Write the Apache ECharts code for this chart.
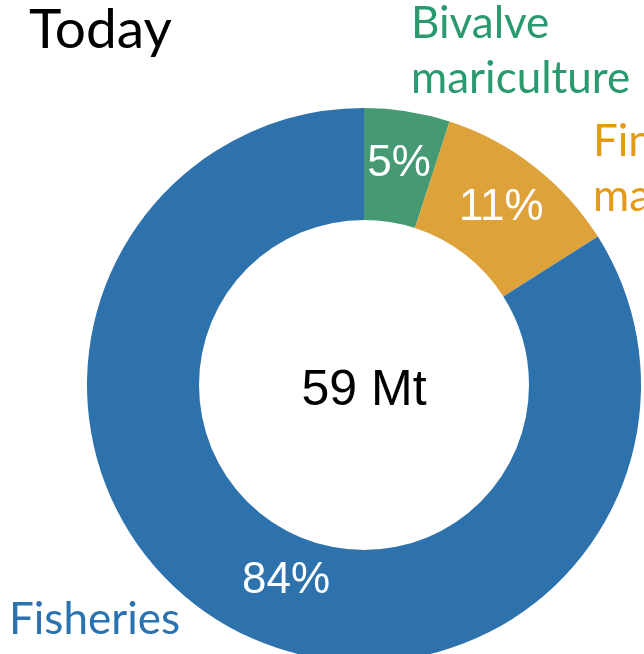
<!DOCTYPE html>
<html>
<head>
<meta charset="utf-8">
<script src="https://cdn.jsdelivr.net/npm/echarts@6/dist/echarts.min.js"></script>
<style>
  html, body { margin: 0; padding: 0; background: #fff; }
  #chart { width: 644px; height: 654px; }
</style>
</head>
<body>
<div id="chart"></div>
<script>
const categories = ["Bivalve mariculture", "Finfish mariculture", "Fisheries"];
const shares = [5, 11, 84];
const colors = ["#459a73", "#dea23a", "#2e72ad"];
const totalLabel = "59 Mt";

const chart = echarts.init(document.getElementById("chart"));

chart.setOption({
  animation: false,
  graphic: [
    { type: "text", left: 29, top: 3, style: { text: "Today", font: "55px Lato", fill: "#000" } },
    { type: "text", left: 411, top: -4, style: { text: "Bivalve\nmariculture", font: "44px Lato", lineHeight: 55, fill: "#2a9a6e" } },
    { type: "text", left: 593, top: 114, style: { text: "Finfish\nmariculture", font: "44px Lato", lineHeight: 55, fill: "#e39a14" } },
    { type: "text", left: 9, top: 598, style: { text: "Fisheries", font: "44px Lato", fill: "#2a72b0" } },
  ],
  title: {
    text: totalLabel,
    left: 359,
    top: 386,
    textAlign: "center",
    textVerticalAlign: "middle",
    textStyle: { fontFamily: "Liberation Sans", fontSize: 50, fontWeight: "normal", color: "#000" },
  },
  series: [
    {
      type: "pie",
      center: [364, 385],
      radius: [165, 277],
      startAngle: 90,
      clockwise: true,
      silent: true,
      label: {
        position: "inside",
        formatter: "{c}%",
        color: "#fff",
        fontFamily: "Liberation Sans",
        fontSize: 44,
      },
      labelLine: { show: false },
      data: categories.map((name, i) => ({
        name,
        value: shares[i],
        itemStyle: { color: colors[i] },
        label: i === 2 ? { offset: [30, 0] } : {},
      })),
    },
  ],
});
</script>
</body>
</html>
